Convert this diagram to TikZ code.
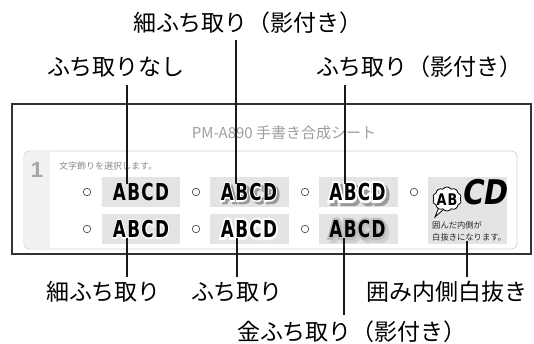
\documentclass[tikz,border=0pt]{standalone}
\usepackage{fontspec}
\usepackage{graphicx}
\usetikzlibrary{calc,shapes.symbols}
\newfontfamily\jp{Noto Sans CJK JP}
\newfontfamily\abcfont{DejaVu Sans Bold}[LetterSpace=8]
\newfontfamily\halothin{DejaVu Sans Bold}[LetterSpace=8,FakeBold=11]
\newfontfamily\halothick{DejaVu Sans Bold}[LetterSpace=8,FakeBold=22]
\newfontfamily\numfont{Liberation Sans Bold}
\newfontfamily\cdfont{DejaVu Sans Bold}[FakeSlant=0.2]
\definecolor{tilegray}{HTML}{E4E4E4}
\definecolor{stripgray}{HTML}{F1F1F1}
\definecolor{shadowgray}{HTML}{9A9A9A}
\definecolor{goldgray}{HTML}{BCBCBC}
\definecolor{goldshadow}{HTML}{CFCFCF}
\newcommand\ABCDtxt[1][\abcfont]{\scalebox{0.72}[1]{#1ABCD}}
\tikzset{
  abcd/.style={inner sep=0pt, font=\fontsize{23.3}{24}\selectfont},
  tile/.style={fill=tilegray, draw=none, inner sep=0pt},
  radio/.style={circle, draw=black!70, line width=0.7pt, fill=white, minimum size=7.5pt, inner sep=0pt},
  lbl/.style={inner sep=0pt, anchor=base west, font=\jp\fontsize{23}{26}\selectfont},
  leader/.style={line width=2.2pt, draw=black!90},
}
\begin{document}
\begin{tikzpicture}[x=1pt,y=-1pt]
\useasboundingbox (0,0) rectangle (534,343);
% outer frame
\draw[line width=1.3pt, draw=black!80] (12,104) rectangle (531,254);
\node[font=\jp\fontsize{15}{18}\selectfont, text=black!38, inner sep=0pt] (title) at (284,133) {PM-A890 手書き合成シート};
% inner box
\draw[draw=black!18, line width=0.7pt, fill=white, rounded corners=5pt] (24,151) rectangle (517,249);
\fill[stripgray, rounded corners=5pt] (24.4,151.4) rectangle (50,248.6);
\fill[stripgray] (40,151.4) rectangle (50,248.6);
\node[font=\numfont\fontsize{22}{24}\selectfont, text=black!35, inner sep=0pt] (num) at (37,170) {1};
\node[font=\jp\fontsize{9}{11}\selectfont, text=black!45, inner sep=0pt, anchor=west] (instr) at (59,166) {文字飾りを選択します。};
% tiles
\node[tile, minimum width=78pt, minimum height=30pt] (tA) at (141,192) {};
\node[tile, minimum width=79pt, minimum height=30pt] (tB) at (249.5,192) {};
\node[tile, minimum width=79pt, minimum height=30pt] (tC) at (358.5,192) {};
\node[tile, minimum width=78pt, minimum height=30pt] (tD) at (141,229) {};
\node[tile, minimum width=79pt, minimum height=30pt] (tE) at (249.5,229) {};
\node[tile, minimum width=79pt, minimum height=30pt] (tF) at (358.5,229) {};
\node[tile, minimum width=79pt, minimum height=67pt] (tG) at (467.5,210.5) {};
% radio buttons
\node[radio] (r1) at (87,192) {};
\node[radio] (r2) at (196,192) {};
\node[radio] (r3) at (305,192) {};
\node[radio] (r4) at (414,192) {};
\node[radio] (r5) at (87,229) {};
\node[radio] (r6) at (196,229) {};
\node[radio] (r7) at (305,229) {};
% top row texts
\node[abcd] (x1) at (141,192) {\ABCDtxt};
\node[abcd, text=shadowgray] (x2s) at (251.5,194.5) {\ABCDtxt[\halothin]};
\node[abcd, text=white] (x2h) at (249,192) {\ABCDtxt[\halothin]};
\node[abcd] (x2) at (249,192) {\ABCDtxt};
\node[abcd, text=shadowgray] (x3s) at (360.5,195) {\ABCDtxt[\halothick]};
\node[abcd, text=white] (x3h) at (357.5,192) {\ABCDtxt[\halothick]};
\node[abcd] (x3) at (357.5,192) {\ABCDtxt};
% bottom row texts
\node[abcd, text=white] (y1h) at (141,229) {\ABCDtxt[\halothin]};
\node[abcd] (y1) at (141,229) {\ABCDtxt};
\node[abcd, text=white] (y2h) at (249,229) {\ABCDtxt[\halothick]};
\node[abcd] (y2) at (249,229) {\ABCDtxt};
\node[abcd, text=goldshadow] (y3s) at (360.5,232) {\ABCDtxt[\halothick]};
\node[abcd, text=goldgray] (y3h) at (357.5,229) {\ABCDtxt[\halothick]};
\node[abcd] (y3) at (357.5,229) {\ABCDtxt};
% enclosed white-out sample
\draw[fill=white, line width=0.8pt] (439,207) -- (435,217) -- (444,209);
\node[cloud, cloud puffs=10, cloud puff arc=110, aspect=1.2, draw, line width=0.8pt, fill=white, minimum width=29pt, minimum height=24pt, inner sep=0pt] (bubble) at (447,199) {};
\node[inner sep=0pt, font=\fontsize{16}{17}\selectfont] (ab) at (447,199.5) {\scalebox{0.8}[1]{\abcfont AB}};
\node[inner sep=0pt] (cd) at (484,192) {\scalebox{0.85}[1]{\cdfont\fontsize{34}{36}\selectfont CD}};
\node[font=\jp\fontsize{8.3}{10}\selectfont, text=black!85, inner sep=0pt, anchor=west] (n1) at (432,225) {囲んだ内側が};
\node[font=\jp\fontsize{8.3}{10}\selectfont, text=black!85, inner sep=0pt, anchor=west] (n2) at (432,237) {白抜きになります。};
% labels
\node[lbl] (L1) at (47,75.7) {ふち取りなし};
\node[lbl] (L2) at (133,31.7) {細ふち取り（影付き）};
\node[lbl] (L3) at (316,75.7) {ふち取り（影付き）};
\node[lbl] (B1) at (46,300.7) {細ふち取り};
\node[lbl] (B2) at (191,300.7) {ふち取り};
\node[lbl] (B3) at (366,300.7) {囲み内側白抜き};
\node[lbl] (B4) at (237,340.7) {金ふち取り（影付き）};
% leader ends
\coordinate (e1) at (127,184);
\coordinate (e2) at (236,184);
\coordinate (e3) at (345,184);
\coordinate (s1) at (127,238);
\coordinate (s2) at (237,238);
\coordinate (s3) at (344,238);
\coordinate (s4) at (467,241);
\draw[leader] ($(L1.base -| e1)+(0,9.3)$) -- (e1);
\draw[leader] ($(L2.base -| e2)+(0,8.3)$) -- (e2);
\draw[leader] ($(L3.base -| e3)+(0,9.3)$) -- (e3);
\draw[leader] (s1) -- ($(B1.base -| s1)+(0,-23.7)$);
\draw[leader] (s2) -- ($(B2.base -| s2)+(0,-23.7)$);
\draw[leader] (s3) -- ($(B4.base -| s3)+(0,-25.7)$);
\draw[leader] (s4) -- ($(B3.base -| s4)+(0,-23.7)$);
\end{tikzpicture}
\end{document}
